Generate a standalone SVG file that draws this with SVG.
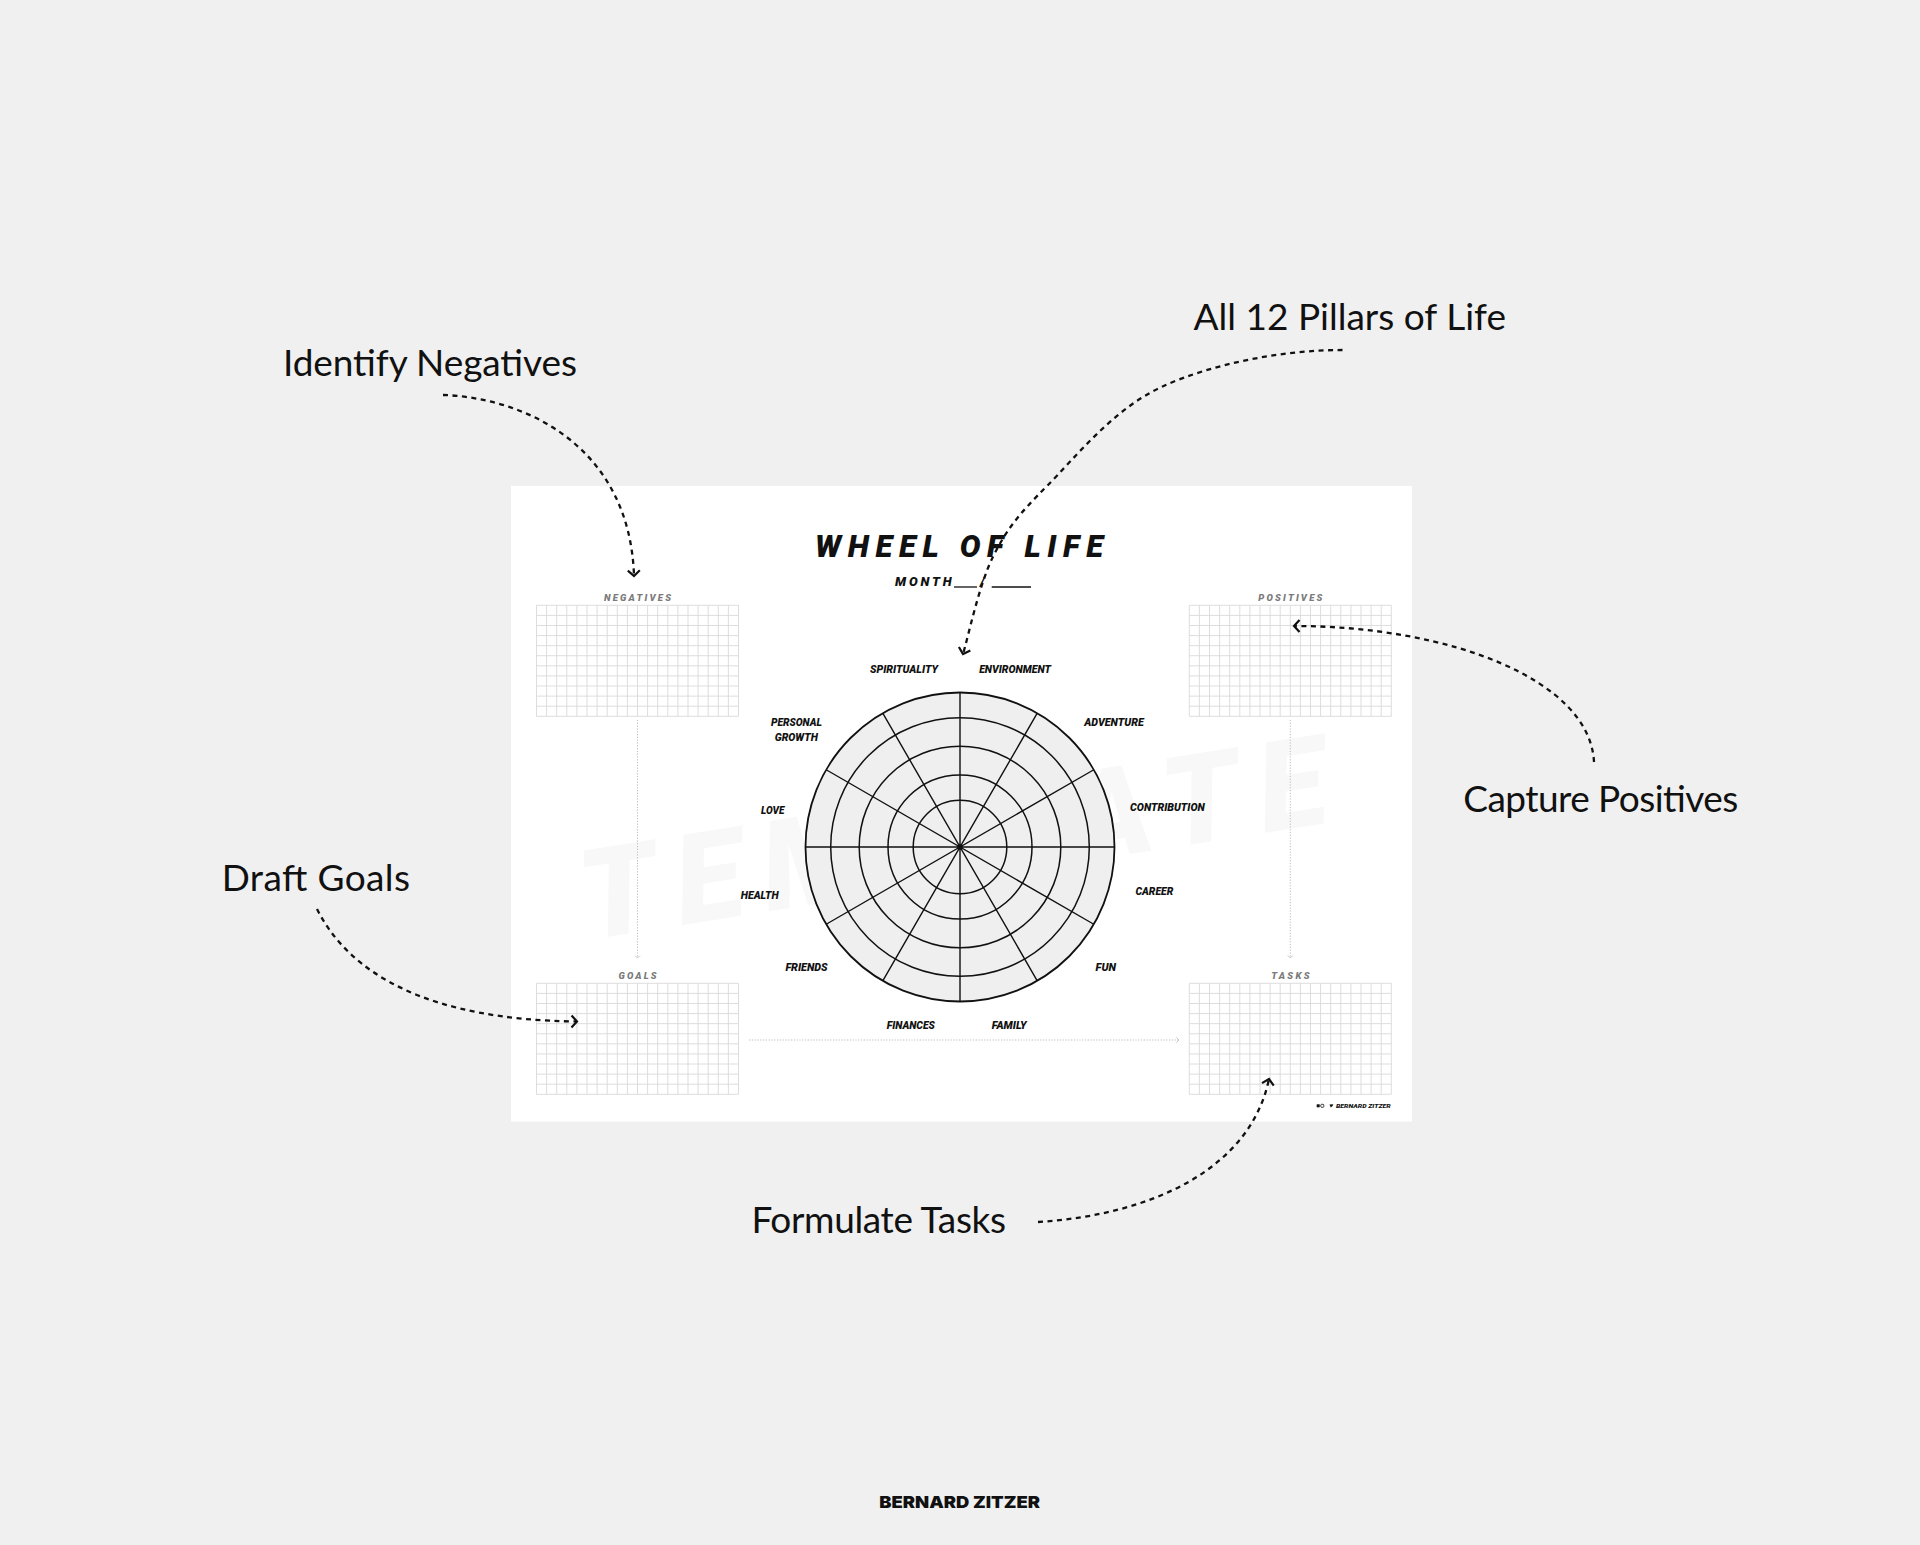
<svg xmlns="http://www.w3.org/2000/svg" xmlns:xlink="http://www.w3.org/1999/xlink" width="1920" height="1545" viewBox="0 0 1920 1545">
<style>
.ann{font-family:"Lato","Liberation Sans",sans-serif;font-size:37px;fill:#111;}
.hv{font-family:"Roboto","Liberation Sans",sans-serif;font-weight:900;font-style:italic;}
.lbl{font-size:10px;fill:#111;text-anchor:middle;}
.sec{font-size:9.5px;fill:#7a7a7a;text-anchor:middle;}
.dash{fill:none;stroke:#111;stroke-width:2.3;stroke-dasharray:5 4.5;marker-end:url(#chev);}
.dot{fill:none;stroke:#bdbdbd;stroke-width:1;stroke-dasharray:1.2 1.6;marker-end:url(#chevS);}
.grid{fill:none;stroke:#d9d9d9;stroke-width:0.9;}
.ring{fill:none;stroke:#111;stroke-width:1.5;}
</style>
<defs>
<marker id="chev" viewBox="-9 -9 11 18" markerWidth="11" markerHeight="18" refX="0" refY="0" orient="auto" markerUnits="userSpaceOnUse">
<path d="M-5.5,-6 L0,0 L-5.5,6" fill="none" stroke="#111" stroke-width="2.2"/>
</marker>
<marker id="chevS" viewBox="-4 -4 5 8" markerWidth="5" markerHeight="8" refX="0" refY="0" orient="auto" markerUnits="userSpaceOnUse">
<path d="M-2.5,-2.5 L0,0 L-2.5,2.5" fill="none" stroke="#bdbdbd" stroke-width="0.9"/>
</marker>
<g id="gridcells">
<path class="grid" d="M0,0V111 M10.1,0V111 M20.2,0V111 M30.3,0V111 M40.4,0V111 M50.5,0V111 M60.6,0V111 M70.7,0V111 M80.8,0V111 M90.9,0V111 M101,0V111 M111.1,0V111 M121.2,0V111 M131.3,0V111 M141.4,0V111 M151.5,0V111 M161.6,0V111 M171.7,0V111 M181.8,0V111 M191.9,0V111 M202,0V111 M0,0H202 M0,10.09H202 M0,20.18H202 M0,30.27H202 M0,40.36H202 M0,50.45H202 M0,60.55H202 M0,70.64H202 M0,80.73H202 M0,90.82H202 M0,100.91H202 M0,111H202"/>
</g>
</defs>

<rect x="0" y="0" width="1920" height="1545" fill="#f0f0f0"/>

<g id="sheet">
<rect x="511" y="486" width="901" height="635.5" fill="#ffffff"/>
<text class="hv" x="587" y="940" font-size="125" fill="#f8f8f8" textLength="754" lengthAdjust="spacing" transform="rotate(-9 587 940)">TEMPLATE</text>
</g>

<g id="title">
<text class="hv" x="815" y="556.7" font-size="31" fill="#111" textLength="288" lengthAdjust="spacing">WHEEL OF LIFE</text>
<text class="hv" x="895" y="585.5" font-size="13" fill="#111" textLength="56.7" lengthAdjust="spacing">MONTH</text>
<line x1="954" y1="587" x2="977" y2="587" stroke="#111" stroke-width="1.3"/>
<text class="hv" x="980" y="585.5" font-size="13" fill="#111">/</text>
<line x1="991.7" y1="587" x2="1031" y2="587" stroke="#111" stroke-width="1.3"/>
</g>

<g id="negatives">
<text class="hv sec" x="637.5" y="601" textLength="67" lengthAdjust="spacing">NEGATIVES</text>
<use xlink:href="#gridcells" href="#gridcells" transform="translate(536.5 605.3)"/>
</g>
<g id="positives">
<text class="hv sec" x="1290.3" y="601" textLength="64" lengthAdjust="spacing">POSITIVES</text>
<use xlink:href="#gridcells" href="#gridcells" transform="translate(1189.3 605.3)"/>
</g>
<g id="goals">
<text class="hv sec" x="637.5" y="979.3" textLength="38" lengthAdjust="spacing">GOALS</text>
<use xlink:href="#gridcells" href="#gridcells" transform="translate(536.5 983.3)"/>
</g>
<g id="tasks">
<text class="hv sec" x="1290.3" y="979.3" textLength="38.3" lengthAdjust="spacing">TASKS</text>
<use xlink:href="#gridcells" href="#gridcells" transform="translate(1189.3 983.3)"/>
</g>

<g id="wheel">
<circle cx="960" cy="847" r="154.5" fill="#efefef" stroke="#111" stroke-width="1.8"/>
<circle class="ring" cx="960" cy="847" r="129.3"/>
<circle class="ring" cx="960" cy="847" r="100.8"/>
<circle class="ring" cx="960" cy="847" r="72"/>
<circle class="ring" cx="960" cy="847" r="46.8"/>
<path fill="none" stroke="#111" stroke-width="1.4" d="M805.5,847H1114.5 M960,692.5V1001.5 M826.2,769.75L1093.8,924.25 M826.2,924.25L1093.8,769.75 M882.75,713.2L1037.25,980.8 M882.75,980.8L1037.25,713.2"/>
</g>

<g id="pillars">
<text class="hv lbl" x="904" y="672.5" textLength="68" lengthAdjust="spacingAndGlyphs">SPIRITUALITY</text>
<text class="hv lbl" x="1015" y="672.5" textLength="71.7" lengthAdjust="spacingAndGlyphs">ENVIRONMENT</text>
<text class="hv lbl" x="1114" y="725.5" textLength="59.5" lengthAdjust="spacingAndGlyphs">ADVENTURE</text>
<text class="hv lbl" x="796.4" y="726" textLength="51" lengthAdjust="spacingAndGlyphs">PERSONAL</text>
<text class="hv lbl" x="796.3" y="741" textLength="43.2" lengthAdjust="spacingAndGlyphs">GROWTH</text>
<text class="hv lbl" x="772.7" y="813.5" textLength="23.4" lengthAdjust="spacingAndGlyphs">LOVE</text>
<text class="hv lbl" x="1167.4" y="811" textLength="74.7" lengthAdjust="spacingAndGlyphs">CONTRIBUTION</text>
<text class="hv lbl" x="759.7" y="899" textLength="37.8" lengthAdjust="spacingAndGlyphs">HEALTH</text>
<text class="hv lbl" x="1154.3" y="895" textLength="37.8" lengthAdjust="spacingAndGlyphs">CAREER</text>
<text class="hv lbl" x="806.5" y="971.3" textLength="42.2" lengthAdjust="spacingAndGlyphs">FRIENDS</text>
<text class="hv lbl" x="1105.8" y="971.3" textLength="20.4" lengthAdjust="spacingAndGlyphs">FUN</text>
<text class="hv lbl" x="910.8" y="1028.5" textLength="48.3" lengthAdjust="spacingAndGlyphs">FINANCES</text>
<text class="hv lbl" x="1009.2" y="1028.5" textLength="35" lengthAdjust="spacingAndGlyphs">FAMILY</text>
</g>

<g id="footer">
<rect x="1316.7" y="1104.3" width="3" height="3" fill="#111"/>
<rect x="1320.8" y="1104.3" width="3" height="3" rx="0.8" fill="none" stroke="#111" stroke-width="0.8"/>
<path d="M1329.5,1104.5 L1333.3,1104.3 L1332.5,1106 L1330.8,1107.4 Z" fill="#111"/>
<text class="hv" x="1336" y="1108" font-size="5.5" fill="#111" font-style="normal" textLength="54.7" lengthAdjust="spacingAndGlyphs">BERNARD ZITZER</text>
</g>

<g id="annotation-negatives"><text class="ann" x="283" y="376" textLength="294" lengthAdjust="spacing">Identify Negatives</text></g>
<g id="annotation-pillars"><text class="ann" x="1193.5" y="330" textLength="312.5" lengthAdjust="spacing">All 12 Pillars of Life</text></g>
<g id="annotation-positives"><text class="ann" x="1463.3" y="812.3" textLength="275" lengthAdjust="spacing">Capture Positives</text></g>
<g id="annotation-goals"><text class="ann" x="221.7" y="890.7" textLength="188.3" lengthAdjust="spacing">Draft Goals</text></g>
<g id="annotation-tasks"><text class="ann" x="751.4" y="1232.7" textLength="254.6" lengthAdjust="spacing">Formulate Tasks</text></g>

<g id="credit"><text x="879.3" y="1507.7" font-family="Inter, 'Liberation Sans', sans-serif" font-weight="900" font-size="16.5" fill="#111" textLength="160.7" lengthAdjust="spacingAndGlyphs">BERNARD ZITZER</text></g>

<g id="connectors">
<path class="dot" d="M637.5,720V958"/>
<path class="dot" d="M1290.3,720V958"/>
<path class="dot" d="M749,1040H1179"/>
<path class="dash" d="M443,395 C530,398 630,450 634,576"/>
<path class="dash" d="M1342.5,350 C1282,350 1211.25,364 1162,386.7 C1112.75,409.4 1075.2,457.7 1047,486 C1018.8,514.3 1007,528.7 993,556.7 C979,584.7 968,637.8 963,654"/>
<path class="dash" d="M1594,762 C1590,680 1450,626 1294,626"/>
<path class="dash" d="M317,909 C350,975 430,1020 577,1021.5"/>
<path class="dash" d="M1038,1222 C1150,1215 1250,1170 1269,1079"/>
</g>
</svg>
